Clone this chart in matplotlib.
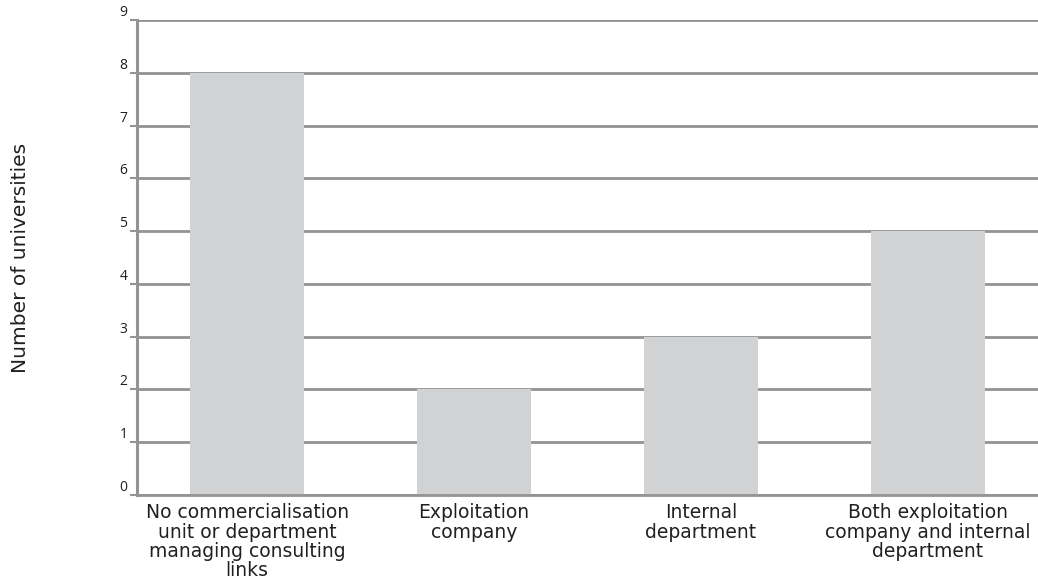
import matplotlib
matplotlib.use("Agg")
import matplotlib.pyplot as plt
import numpy as np

# categories and counts
categories = [
    "No commercialisation\nunit or department\nmanaging consulting\nlinks",
    "Exploitation\ncompany",
    "Internal\ndepartment",
    "Both exploitation\ncompany and internal\ndepartment",
]
counts = [8, 2, 3, 5]
yticks = list(range(0, 10))

grid_col = "#939393"
bar_col = "#d1d2d4"
text_col = "#231f20"

fig = plt.figure(figsize=(10.38, 5.82), dpi=100)
ax = fig.add_axes([0.132, 0.1495, 0.868, 0.816])

x = np.arange(len(categories))
ax.bar(x, counts, width=0.502, color=bar_col, zorder=2)

ax.set_xlim(-0.485, 3.485)
ax.set_ylim(0, 9)
ax.set_yticks(yticks)
ax.set_yticklabels([str(v) for v in yticks], family="Open Sans", fontsize=10, color=text_col)
for lab in ax.get_yticklabels():
    lab.set_va("bottom")
ax.tick_params(axis="y", length=5, width=1.5, color=grid_col, pad=2)

ax.set_xticks(x)
ax.set_xticklabels(categories, fontsize=13.5, color=text_col, linespacing=1.02, va="top")
ax.tick_params(axis="x", length=0, pad=6)

ax.yaxis.grid(True, color=grid_col, linewidth=2.0, zorder=1)
ax.set_axisbelow(True)

for side in ("top", "right"):
    ax.spines[side].set_visible(False)
ax.spines["left"].set_color(grid_col)
ax.spines["left"].set_linewidth(2.2)
ax.spines["bottom"].set_color(grid_col)
ax.spines["bottom"].set_linewidth(2.0)

fig.text(0.02, 0.557, "Number of universities", rotation=90, fontsize=14.5,
         color=text_col, ha="center", va="center")

fig.savefig("out.png", dpi=100)
